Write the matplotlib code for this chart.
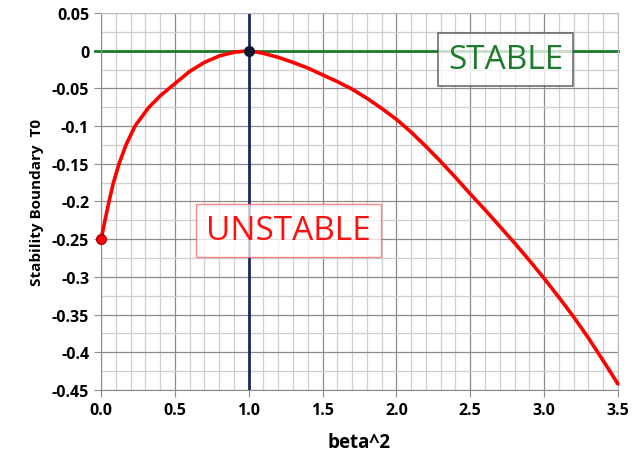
import matplotlib.pyplot as plt
import numpy as np
from matplotlib.ticker import MultipleLocator, FuncFormatter

plt.rcParams['font.family'] = ['Open Sans', 'DejaVu Sans']
plt.rcParams['axes.unicode_minus'] = False

# stability boundary T0 against beta^2
beta2 = [0.0, 0.027, 0.054, 0.084, 0.122, 0.169, 0.23, 0.32, 0.4, 0.467, 0.6, 0.7, 0.8, 0.9, 1.0,
         1.1, 1.2, 1.3, 1.4, 1.5, 1.6, 1.7, 1.8, 1.9, 2.0, 2.1, 2.2, 2.3, 2.4, 2.5,
         2.6, 2.7, 2.8, 2.9, 3.0, 3.1, 3.2, 3.3, 3.4, 3.5]
t0 = [-0.25, -0.225, -0.2, -0.175, -0.15, -0.125, -0.1, -0.076, -0.060, -0.049, -0.0275, -0.0155, -0.007, -0.002, 0.0,
      -0.0035, -0.0088, -0.0155, -0.023, -0.032, -0.041, -0.051, -0.063, -0.0765, -0.091, -0.108, -0.127, -0.147, -0.168, -0.19,
      -0.211, -0.233, -0.255, -0.278, -0.302, -0.327, -0.353, -0.381, -0.411, -0.442]

start_pt = (0.0, -0.25)
peak_pt = (1.0, 0.0)

fig = plt.figure(figsize=(6.41, 4.52), dpi=100)
ax = fig.add_axes([0.1576, 0.135, 0.8064, 0.834])

ax.set_xlim(0, 3.5)
ax.set_ylim(-0.45, 0.05)

ax.xaxis.set_major_locator(MultipleLocator(0.5))
ax.xaxis.set_minor_locator(MultipleLocator(0.1))
ax.yaxis.set_major_locator(MultipleLocator(0.05))
ax.yaxis.set_minor_locator(MultipleLocator(0.025))
ax.xaxis.set_major_formatter(FuncFormatter(lambda v, p: f"{v:.1f}"))
ax.yaxis.set_major_formatter(FuncFormatter(lambda v, p: "0" if abs(v) < 1e-9 else f"{v:g}"))

ax.grid(which='major', color='#8c8c8c', linewidth=0.9)
ax.grid(which='minor', color='#cfcfcf', linewidth=0.9)
ax.set_axisbelow(True)
for s in ax.spines.values():
    s.set_color('#bdbdbd')
ax.spines['left'].set_color('#8c8c8c')
ax.spines['bottom'].set_color('#8c8c8c')
ax.tick_params(which='major', length=5, color='#8c8c8c', labelsize=11.5)
ax.tick_params(which='minor', length=0)
for lab in ax.get_xticklabels() + ax.get_yticklabels():
    lab.set_fontweight('bold')

ax.axhline(0, color='#1e7b2e', linewidth=2.0, zorder=2, clip_on=False, xmin=-0.012)
ax.axvline(1.0, color='#1a2a5e', linewidth=2.0, zorder=2)
ax.plot(beta2, t0, color='#ff0000', linewidth=2.6, zorder=3, clip_on=False,
        solid_joinstyle='round', solid_capstyle='round')
ax.plot(*start_pt, 'o', color='#ff0000', markeredgecolor='#a00000', markersize=7, zorder=4, clip_on=False)
ax.plot(*peak_pt, 'o', color='#101830', markersize=7, zorder=4)

ax.text(1.27, -0.2385, "UNSTABLE", color='#ff1010', fontsize=24, ha='center', va='center', zorder=5,
        bbox=dict(boxstyle='square,pad=0.3', facecolor='white', alpha=0.75, edgecolor='#ff6060', linewidth=1))
ax.text(2.74, -0.011, "STABLE", color='#1e7b2e', fontsize=24, ha='center', va='center', zorder=5,
        bbox=dict(boxstyle='square,pad=0.3', facecolor='white', alpha=0.75, edgecolor='#404040', linewidth=1.2))

ax.set_xlabel("beta^2", fontsize=13.5, fontweight='bold', labelpad=10)
ax.set_ylabel("Stability Boundary  T0", fontsize=11, fontweight='bold', labelpad=6)

fig.savefig("out.png", dpi=100)
